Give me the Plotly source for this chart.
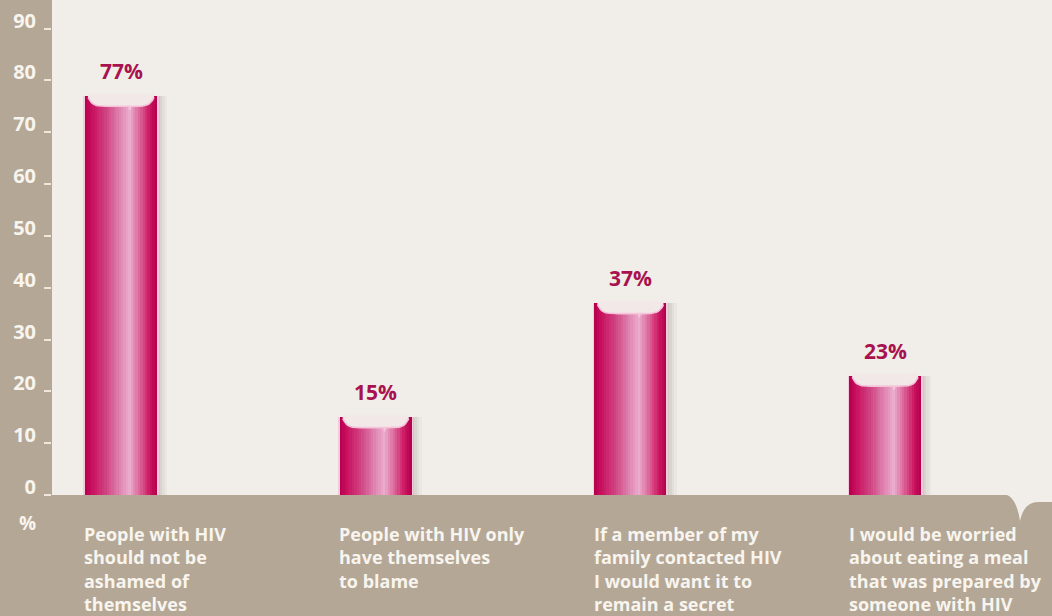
import plotly.graph_objects as go

# Survey statements and share of respondents agreeing (%)
statements = [
    "People with HIV<br>should not be<br>ashamed of<br>themselves",
    "People with HIV only<br>have themselves<br>to blame",
    "If a member of my<br>family contacted HIV<br>I would want it to<br>remain a secret",
    "I would be worried<br>about eating a meal<br>that was prepared by<br>someone with HIV",
]
percentages = [77, 15, 37, 23]
value_labels = ["77%", "15%", "37%", "23%"]
y_ticks = [0, 10, 20, 30, 40, 50, 60, 70, 80, 90]

TAN = "#b4a796"
CREAM = "#f1eee9"
CRIMSON_TEXT = "#a8124e"
LABEL_WHITE = "#f8f4ee"
FONT = "Open Sans"

BAR_W = 0.283          # bar width in category units
X_RANGE = [-0.271, 3.655]
Y_RANGE = [0, 95.5]
positions = list(range(len(percentages)))

# colour stops across the bar (left -> right) to give a cylinder look
stops = [
    (0.00, (178, 0, 76)),
    (0.08, (200, 12, 92)),
    (0.30, (208, 70, 132)),
    (0.50, (224, 138, 180)),
    (0.62, (234, 172, 205)),
    (0.76, (220, 100, 152)),
    (0.90, (204, 20, 96)),
    (1.00, (176, 0, 74)),
]


def colour_at(f):
    for (f0, c0), (f1, c1) in zip(stops[:-1], stops[1:]):
        if f0 <= f <= f1:
            t = (f - f0) / (f1 - f0) if f1 > f0 else 0
            r, g, b = (round(a + (b_ - a) * t) for a, b_ in zip(c0, c1))
            return f"rgb({r},{g},{b})"
    r, g, b = stops[-1][1]
    return f"rgb({r},{g},{b})"


fig = go.Figure()

# soft drop shadow to the right of each bar
for dx, alpha in [(0.040, 0.05), (0.030, 0.06), (0.020, 0.08), (0.010, 0.10)]:
    fig.add_trace(go.Bar(
        x=positions, y=percentages,
        offset=-BAR_W / 2 + dx, width=BAR_W,
        marker=dict(color=f"rgba(120,100,90,{alpha})", line=dict(width=0)),
        hoverinfo="skip", showlegend=False,
    ))

# pale pink rim around the bar
fig.add_trace(go.Bar(
    x=positions, y=percentages,
    offset=-BAR_W / 2 - 0.006, width=BAR_W + 0.012,
    marker=dict(color="#f6c9dc", line=dict(width=0)),
    hoverinfo="skip", showlegend=False,
))

# vertical colour stripes forming the gradient body
N_STRIPES = 30
stripe_w = BAR_W / N_STRIPES
for i in range(N_STRIPES):
    f = (i + 0.5) / N_STRIPES
    fig.add_trace(go.Bar(
        x=positions, y=percentages,
        offset=-BAR_W / 2 + i * stripe_w, width=stripe_w * 1.25 if i < N_STRIPES - 1 else stripe_w,
        marker=dict(color=colour_at(f), line=dict(width=0)),
        hoverinfo="skip", showlegend=False,
    ))

# hollow cup-like opening at the top of each bar
HORN = 0.012
for c, v in zip(positions, percentages):
    left = c - BAR_W / 2 + HORN
    right = c + BAR_W / 2 - HORN
    n = 40
    xs_edge, ys_edge = [], []
    for k in range(n + 1):
        t = k / n
        x = left + (right - left) * t
        s = abs(2 * t - 1)
        y = v - 2.0 + 1.7 * s ** 8
        xs_edge.append(x)
        ys_edge.append(y)
    # small downward cusp in line with the highlight
    cusp_x = c - BAR_W / 2 + 0.62 * BAR_W
    pts = sorted(list(zip(xs_edge, ys_edge)) +
                 [(cusp_x - 0.012, v - 2.0), (cusp_x, v - 2.7), (cusp_x + 0.012, v - 2.0)])
    bx = [p[0] for p in pts]
    by = [p[1] for p in pts]
    fig.add_trace(go.Scatter(
        x=[left] + bx + [right, left], y=[v + 0.4] + by + [v + 0.4, v + 0.4],
        mode="lines", fill="toself", fillcolor="#f2e8e8",
        line=dict(width=0), hoverinfo="skip", showlegend=False,
    ))
    fig.add_trace(go.Scatter(
        x=bx, y=by, mode="lines",
        line=dict(color="#f5c4d9", width=1.6),
        hoverinfo="skip", showlegend=False,
    ))

# percentage labels above the bars
for c, v, lab in zip(positions, percentages, value_labels):
    fig.add_annotation(
        x=c, y=v, xref="x", yref="y", text=f"<b>{lab}</b>",
        showarrow=False, yanchor="middle", yshift=25,
        font=dict(family=FONT, size=21, color=CRIMSON_TEXT),
    )

# statement labels under the baseline
for c, lab in zip(positions, statements):
    fig.add_annotation(
        x=c - BAR_W / 2 - 0.010, y=0, xref="x", yref="y",
        text=f"<b>{lab}</b>", showarrow=False,
        xanchor="left", yanchor="top", align="left", yshift=-25,
        font=dict(family=FONT, size=18, color=LABEL_WHITE),
    )

# unit marker under the y axis
fig.add_annotation(
    x=-0.025, y=-0.0566, xref="paper", yref="paper", text="<b>%</b>",
    showarrow=False, xanchor="center", yanchor="middle",
    font=dict(family=FONT, size=19, color=LABEL_WHITE),
)


# speech-bubble tail at the right end of the baseline
def px_to_paper(px, py):
    return (px - 52) / 1000, (495 - py) / 495


p = [px_to_paper(*q) for q in [(1002, 494), (1016, 494), (1020, 521),
                                (1024, 502), (1038, 502), (1052, 502), (1052, 494)]]
path = (f"M {p[0][0]},{p[0][1]} Q {p[1][0]},{p[1][1]} {p[2][0]},{p[2][1]} "
        f"Q {p[3][0]},{p[3][1]} {p[4][0]},{p[4][1]} L {p[5][0]},{p[5][1]} "
        f"L {p[6][0]},{p[6][1]} Z")
fig.add_shape(type="path", path=path, xref="paper", yref="paper",
              fillcolor=CREAM, line=dict(width=0), layer="below")

fig.update_layout(
    width=1052, height=616,
    margin=dict(l=52, r=0, t=0, b=121),
    paper_bgcolor=TAN, plot_bgcolor=CREAM,
    barmode="overlay", bargap=0,
    showlegend=False,
    xaxis=dict(range=X_RANGE, showticklabels=False, showgrid=False,
               zeroline=False, showline=False, ticks=""),
    yaxis=dict(range=Y_RANGE, tickvals=y_ticks, ticktext=[f"<b>{t}</b>" for t in y_ticks],
               showgrid=False, zeroline=False, showline=False,
               ticks="outside", ticklen=7, tickcolor="#efe7dc", tickwidth=1.5,
               ticklabelshift=-8, ticklabelstandoff=4,
               tickfont=dict(family=FONT, size=20, color=LABEL_WHITE)),
)

fig.write_html("out.html")
